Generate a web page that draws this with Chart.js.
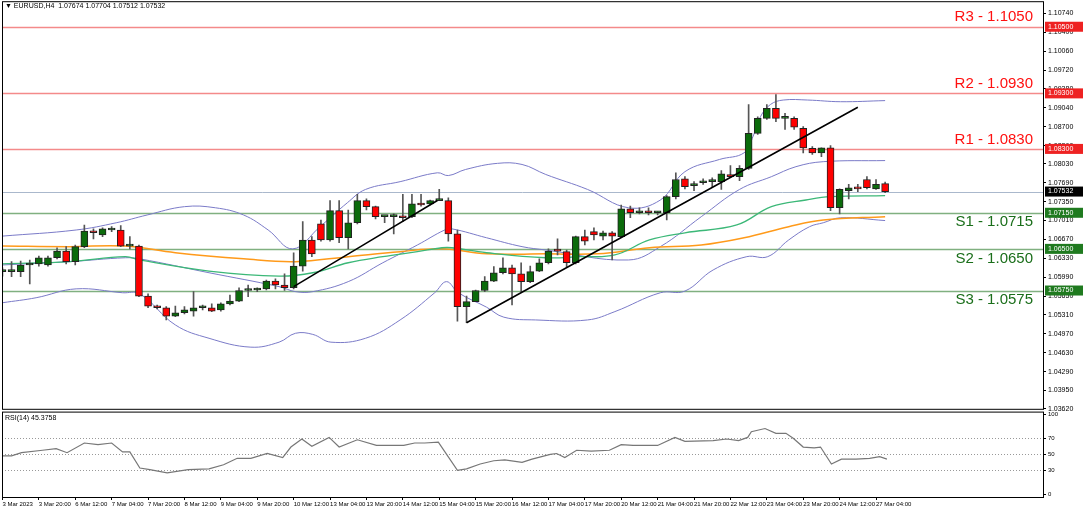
<!DOCTYPE html>
<html>
<head>
<meta charset="utf-8">
<script src="https://cdn.jsdelivr.net/npm/chart.js@4"></script>
<style>
  html, body { margin: 0; padding: 0; background: #fff; overflow: hidden; }
  #wrap { position: relative; width: 1090px; height: 510px; overflow: hidden; }
  #main { position: absolute; left: 0; top: -5px; }
  #rsi { position: absolute; left: 0; top: 406px; }
</style>
</head>
<body>
<div id="wrap">
  <canvas id="main" width="1090" height="420"></canvas>
  <canvas id="rsi" width="1090" height="104"></canvas>
</div>
<script>
/* EURUSD H4 - candles, bands, levels, RSI */

const OPEN  = [1.0609,1.0609,1.0609,1.0621,1.0623,1.0621,1.0634,1.0646,1.0627,1.0654,1.0682,1.0675,1.0684,1.0684,1.0655,1.0655,1.0565,1.0547,1.0544,1.0529,1.0535,1.0538,1.0544,1.0544,1.0540,1.0551,1.0556,1.0575,1.0576,1.0578,1.0592,1.0585,1.0580,1.0619,1.0666,1.0695,1.0666,1.0719,1.0670,1.0697,1.0737,1.0726,1.0708,1.0708,1.0709,1.0708,1.0731,1.0731,1.0737,1.0737,1.0677,1.0546,1.0555,1.0575,1.0592,1.0607,1.0616,1.0605,1.0591,1.0610,1.0625,1.0648,1.0645,1.0625,1.0672,1.0681,1.0673,1.0679,1.0672,1.0722,1.0715,1.0717,1.0715,1.0715,1.0744,1.0776,1.0764,1.0769,1.0771,1.0771,1.0784,1.0780,1.0795,1.0858,1.0885,1.0903,1.0885,1.0885,1.0867,1.0831,1.0823,1.0832,1.0724,1.0755,1.0760,1.0775,1.0758,1.07674];
const HIGH  = [1.0616,1.0627,1.0628,1.0630,1.0637,1.0637,1.0652,1.0654,1.0657,1.0693,1.0686,1.0688,1.0690,1.0692,1.0672,1.0657,1.0569,1.0549,1.0546,1.0547,1.0546,1.0573,1.0549,1.0551,1.0553,1.0567,1.0580,1.0585,1.0580,1.0594,1.0596,1.0605,1.0643,1.0699,1.0672,1.0702,1.0737,1.0737,1.0720,1.0748,1.0740,1.0727,1.0709,1.0713,1.0748,1.0748,1.0748,1.0738,1.0757,1.0742,1.0684,1.0565,1.0576,1.0600,1.0618,1.0634,1.0621,1.0625,1.0619,1.0632,1.0650,1.0668,1.0648,1.0673,1.0684,1.0688,1.0682,1.0681,1.0729,1.0727,1.0724,1.0724,1.0717,1.0746,1.0787,1.0780,1.0771,1.0776,1.0778,1.0791,1.0800,1.0800,1.0910,1.0888,1.0910,1.0928,1.0894,1.0888,1.0870,1.0834,1.0832,1.0836,1.0758,1.0766,1.0766,1.0780,1.0775,1.07704];
const LOW   = [1.0601,1.0600,1.0600,1.0587,1.0619,1.0619,1.0632,1.0623,1.0621,1.0652,1.0668,1.0672,1.0681,1.0654,1.0650,1.0564,1.0544,1.0542,1.0522,1.0528,1.0533,1.0529,1.0540,1.0537,1.0538,1.0549,1.0555,1.0564,1.0573,1.0576,1.0578,1.0575,1.0578,1.0610,1.0636,1.0664,1.0664,1.0661,1.0650,1.0695,1.0720,1.0704,1.0697,1.0677,1.0699,1.0706,1.0727,1.0729,1.0737,1.0664,1.0520,1.0517,1.0555,1.0573,1.0591,1.0605,1.0549,1.0573,1.0589,1.0609,1.0623,1.0639,1.0618,1.0623,1.0657,1.0666,1.0666,1.0630,1.0670,1.0706,1.0713,1.0711,1.0711,1.0702,1.0740,1.0758,1.0755,1.0766,1.0762,1.0757,1.0778,1.0773,1.0793,1.0856,1.0883,1.0879,1.0865,1.0865,1.0823,1.0820,1.0816,1.0719,1.0713,1.0740,1.0753,1.0758,1.0757,1.07512];
const CLOSE = [1.0609,1.0609,1.0621,1.0623,1.0634,1.0634,1.0646,1.0627,1.0654,1.0682,1.0679,1.0686,1.0684,1.0655,1.0655,1.0565,1.0547,1.0544,1.0529,1.0535,1.0540,1.0544,1.0544,1.0538,1.0551,1.0556,1.0575,1.0575,1.0578,1.0592,1.0585,1.0580,1.0619,1.0666,1.0641,1.0666,1.0719,1.0670,1.0697,1.0737,1.0726,1.0708,1.0708,1.0709,1.0706,1.0731,1.0729,1.0737,1.0737,1.0677,1.0546,1.0555,1.0575,1.0592,1.0607,1.0616,1.0605,1.0591,1.0609,1.0625,1.0646,1.0646,1.0625,1.0672,1.0664,1.0675,1.0679,1.0673,1.0722,1.0715,1.0715,1.0715,1.0715,1.0744,1.0775,1.0762,1.0764,1.0769,1.0771,1.0785,1.0780,1.0795,1.0858,1.0885,1.0903,1.0885,1.0885,1.0869,1.0832,1.0823,1.0832,1.0724,1.0757,1.0760,1.0758,1.0760,1.0766,1.07532];

// indicator lines: [bar index, price]
const BB_UPPER = [[0,1.0673],[8.1,1.0684],[12.5,1.0697],[15.9,1.0711],[20,1.0726],[23.4,1.0724],[26.5,1.0711],[29.2,1.0684],[31.9,1.0650],[34.9,1.0690],[37.9,1.0733],[39.9,1.0757],[43.7,1.0771],[47.8,1.0787],[49,1.0782],[50.9,1.0793],[54.4,1.0804],[57.1,1.0802],[59.7,1.0784],[64.3,1.0757],[68.8,1.0724],[72.3,1.0738],[75,1.0789],[78.8,1.0811],[81.5,1.0823],[82.5,1.0853],[83.3,1.0888],[84.4,1.0910],[85.8,1.0918],[88.5,1.0918],[92.1,1.0915],[97,1.0917]];
const BB_MID = [[0,1.0621],[7.4,1.0627],[13.5,1.0634],[15.1,1.0632],[22.7,1.0607],[30.4,1.0582],[32.2,1.0573],[34.1,1.0573],[38,1.0591],[41.8,1.0625],[45.6,1.0657],[48.6,1.0684],[49.4,1.0686],[53.2,1.0670],[57.1,1.0654],[59.7,1.0648],[68.8,1.0630],[72.3,1.0654],[76.8,1.0708],[81,1.0757],[84.5,1.0780],[87.2,1.0798],[90.2,1.0807],[97,1.0809]];
const BB_LOWER = [[0,1.0553],[3.7,1.0562],[8.1,1.0578],[13.2,1.0571],[15.1,1.0569],[19,1.0513],[22.7,1.0489],[27.3,1.0473],[30.4,1.0482],[32.2,1.0498],[34.1,1.0496],[36.1,1.0482],[39.9,1.0489],[43.7,1.0522],[47.5,1.0571],[48.8,1.0591],[50.1,1.0571],[53.2,1.0545],[55.1,1.0527],[58.6,1.0522],[64.3,1.0522],[67.3,1.0537],[72.3,1.0571],[75,1.0574],[78.1,1.0612],[81.8,1.0636],[84.1,1.0636],[86.4,1.0666],[88.7,1.0690],[90.2,1.0697],[92.1,1.0706],[97,1.0701]];
const MA_GREEN = [[0,1.0623],[7.4,1.0627],[13.5,1.0636],[15.1,1.0630],[22.7,1.0610],[30.4,1.0601],[34.1,1.0607],[38,1.0625],[41.8,1.0636],[45.6,1.0645],[48.3,1.0652],[49.4,1.0652],[53.2,1.0643],[59.7,1.0634],[63.5,1.0636],[67.3,1.0639],[71.1,1.0666],[75,1.0679],[80.7,1.0693],[84.5,1.0726],[88.3,1.0738],[91,1.0744],[97,1.0746]];
const MA_ORANGE = [[0,1.0655],[7.4,1.0654],[13.5,1.0655],[19,1.0643],[26.5,1.0632],[32.2,1.0627],[38,1.0636],[43.7,1.0645],[48.3,1.0650],[53.2,1.0641],[59.7,1.0641],[65.4,1.0641],[71.1,1.0652],[76.8,1.0657],[81.5,1.0670],[86.4,1.0690],[90.2,1.0702],[97,1.0708]];
const TREND_1 = [[32,1.0582],[47.8,1.0737]];
const TREND_2 = [[51,1.0517],[94,1.0905]];

const LEVELS = [
  { name: "R3", value: 1.1050, kind: "r" },
  { name: "R2", value: 1.0930, kind: "r" },
  { name: "R1", value: 1.0830, kind: "r" },
  { name: "S1", value: 1.0715, kind: "s" },
  { name: "S2", value: 1.0650, kind: "s" },
  { name: "S3", value: 1.0575, kind: "s" },
];
const LAST_PRICE = 1.07532;

const Y_TICKS = [1.0362,1.0395,1.0429,1.0463,1.0497,1.0531,1.0565,1.0599,1.0633,1.0667,1.0701,1.0735,1.0769,1.0803,1.0836,1.0870,1.0904,1.0938,1.0972,1.1006,1.1040,1.1074];
const TIME_LABELS = ["3 Mar 2023","3 Mar 20:00","6 Mar 12:00","7 Mar 04:00","7 Mar 20:00","8 Mar 12:00","9 Mar 04:00","9 Mar 20:00","10 Mar 12:00","13 Mar 04:00","13 Mar 20:00","14 Mar 12:00","15 Mar 04:00","15 Mar 20:00","16 Mar 12:00","17 Mar 04:00","17 Mar 20:00","20 Mar 12:00","21 Mar 04:00","21 Mar 20:00","22 Mar 12:00","23 Mar 04:00","23 Mar 20:00","24 Mar 12:00","27 Mar 04:00"];

const RSI = [[0,48],[1,48],[2.1,52],[4.4,55],[5.9,57],[7.1,52],[9,64],[10.5,62],[12,64],[13.2,53],[14,53],[15.1,33],[16.2,31],[18.1,27],[20.4,31],[22.7,32],[24.3,37],[25.8,45],[27.3,45],[29.1,51],[30.8,46],[31.7,59],[32.9,69],[34,60],[35.9,71],[37,59],[39,68],[41.1,61],[42.6,61],[44.1,61],[45.3,64],[46.4,64],[47.9,65],[50,30],[51,32],[52.5,38],[54,42],[55.2,43],[57.1,40],[58.2,44],[60.2,50],[60.9,51],[61.8,46],[63.1,55],[64.7,54],[66.7,55],[68,62],[69.3,61],[72,61],[73.9,71],[75,66],[78.1,67],[79.6,69],[80.9,67],[81.9,71],[82.3,78],[83.8,82],[85,76],[86.1,76],[86.9,70],[88,59],[89.2,58],[89.9,59],[91.1,38],[92.2,44],[93.8,44],[95.3,45],[96.4,47],[97.2,44]];
const RSI_LEVELS = [70, 50, 30];
const RSI_TICKS = [0, 30, 50, 70, 100];

const X_MIN = -0.05, X_MAX = 114.35;
const FONT = "DejaVu Sans";
const SMALL = "Liberation Sans";

const pts = (arr) => arr.map(([x, y]) => ({ x, y }));
const fixAxis = (w) => (s) => { s.width = w; };

/* ── Plugins ─────────────────────────────────────────── */
const frame = {
  id: "frame",
  afterDraw(chart) {
    const { ctx, chartArea: a } = chart;
    ctx.save();
    ctx.strokeStyle = "#000";
    ctx.lineWidth = 1;
    ctx.strokeRect(a.left + 0.5, a.top + 0.5, a.right - a.left, a.bottom - a.top);
    ctx.restore();
  },
};

const levels = {
  id: "levels",
  beforeDatasetsDraw(chart) {
    const { ctx, chartArea: a, scales: { y } } = chart;
    ctx.save();
    LEVELS.forEach((l) => {
      const py = Math.round(y.getPixelForValue(l.value)) + 0.5;
      ctx.strokeStyle = l.kind === "r" ? "#f48a8a" : "#80b080";
      ctx.lineWidth = 1.5;
      ctx.beginPath(); ctx.moveTo(a.left, py); ctx.lineTo(a.right, py); ctx.stroke();
    });
    const py = Math.round(y.getPixelForValue(LAST_PRICE)) + 0.5;
    ctx.strokeStyle = "#aab8cc"; ctx.lineWidth = 1;
    ctx.beginPath(); ctx.moveTo(a.left, py); ctx.lineTo(a.right, py); ctx.stroke();
    ctx.restore();
  },
  afterDraw(chart) {
    const { ctx, chartArea: a, scales: { y } } = chart;
    ctx.save();
    ctx.font = `15px "Liberation Sans"`;
    ctx.textAlign = "right";
    LEVELS.forEach((l) => {
      const py = y.getPixelForValue(l.value);
      ctx.fillStyle = l.kind === "r" ? "#ff1010" : "#1a6e1a";
      ctx.textBaseline = l.kind === "r" ? "bottom" : "top";
      ctx.fillText(`${l.name} - ${l.value.toFixed(4)}`, a.right - 10, l.kind === "r" ? py - 2 : py + 2);
    });
    // price tags on axis
    const tag = (v, bg) => {
      const py = y.getPixelForValue(v);
      ctx.fillStyle = bg;
      ctx.fillRect(a.right + 2, py - 5, 38, 10);
      ctx.fillStyle = "#fff";
      ctx.font = `7px "${SMALL}"`;
      ctx.textAlign = "left";
      ctx.textBaseline = "middle";
      ctx.fillText(v.toFixed(5), a.right + 5, py);
    };
    LEVELS.forEach((l) => tag(l.value, l.kind === "r" ? "#ee2222" : "#1f7a1f"));
    tag(LAST_PRICE, "#000");
    // header
    ctx.fillStyle = "#000";
    ctx.font = `7px "${SMALL}"`;
    ctx.textAlign = "left";
    ctx.textBaseline = "middle";
    ctx.fillText("▼ EURUSD,H4  1.07674 1.07704 1.07512 1.07532", a.left + 3, a.top + 5);
    ctx.restore();
  },
};

/* ── Main price chart ───────────────────────────────── */
const idx = OPEN.map((_, i) => i);
const bodyColor = idx.map((i) => (CLOSE[i] >= OPEN[i] ? "#0b6b0b" : "#ff0000"));

const lineDs = (data, color, width, order) => ({
  type: "line", data: pts(data), borderColor: color, borderWidth: width,
  pointRadius: 0, tension: 0.4, fill: false, order,
});

new Chart(document.getElementById("main"), {
  type: "bar",
  data: {
    datasets: [
      {
        data: idx.map((i) => ({ x: i, y: [OPEN[i], CLOSE[i]] })),
        backgroundColor: bodyColor, borderColor: "#222", borderWidth: 1,
        borderSkipped: false, barThickness: 7, minBarLength: 2, grouped: false, order: 0,
      },
      {
        data: idx.map((i) => ({ x: i, y: [LOW[i], HIGH[i]] })),
        backgroundColor: "#555", barThickness: 1, grouped: false, order: 1,
      },
      lineDs(TREND_1, "#000", 1.6, -1),
      lineDs(TREND_2, "#000", 1.6, -1),
      lineDs(BB_UPPER, "#7b7bc8", 1, 3),
      lineDs(BB_MID, "#7b7bc8", 1, 3),
      lineDs(BB_LOWER, "#7b7bc8", 1, 3),
      lineDs(MA_GREEN, "#3cb878", 1.3, 2),
      lineDs(MA_ORANGE, "#ff9a1a", 1.5, 2),
    ],
  },
  options: {
    responsive: false, animation: false,
    layout: { padding: { left: 2, top: 2, right: 0, bottom: 0 } },
    plugins: { legend: { display: false }, tooltip: { enabled: false } },
    scales: {
      x: { type: "linear", min: X_MIN, max: X_MAX, offset: false, display: false },
      y: {
        position: "right", min: 1.0362, max: 1.1096,
        afterFit: fixAxis(47),
        afterBuildTicks: (s) => { s.ticks = Y_TICKS.map((v) => ({ value: v })); },
        grid: { drawOnChartArea: false, tickLength: 3, color: "#000" },
        border: { display: false },
        ticks: { font: { family: SMALL, size: 7 }, color: "#000", padding: 2, callback: (v) => v.toFixed(5) },
      },
    },
  },
  plugins: [levels, frame],
});

/* ── RSI chart ───────────────────────────────────────── */
const rsiGrid = {
  id: "rsiGrid",
  beforeDatasetsDraw(chart) {
    const { ctx, chartArea: a, scales: { y } } = chart;
    ctx.save();
    ctx.strokeStyle = "#999"; ctx.lineWidth = 1; ctx.setLineDash([1, 2]);
    RSI_LEVELS.forEach((v) => {
      const py = Math.round(y.getPixelForValue(v)) + 0.5;
      ctx.beginPath(); ctx.moveTo(a.left, py); ctx.lineTo(a.right, py); ctx.stroke();
    });
    ctx.setLineDash([]);
    ctx.fillStyle = "#000";
    ctx.font = `7px "${SMALL}"`;
    ctx.textBaseline = "middle";
    ctx.fillText("RSI(14) 45.3758", a.left + 3, a.top + 6);
    ctx.restore();
  },
};

new Chart(document.getElementById("rsi"), {
  type: "line",
  data: {
    datasets: [{
      data: pts(RSI), borderColor: "#777", borderWidth: 1.2, pointRadius: 0, tension: 0, fill: false,
    }],
  },
  options: {
    responsive: false, animation: false,
    layout: { padding: { left: 2, top: 0, right: 0, bottom: 0 } },
    plugins: { legend: { display: false }, tooltip: { enabled: false } },
    scales: {
      x: {
        type: "linear", min: X_MIN, max: X_MAX, offset: false,
        afterFit: (s) => { s.height = 13; },
        afterBuildTicks: (s) => { s.ticks = TIME_LABELS.map((_, k) => ({ value: k * 4 })); },
        grid: { drawOnChartArea: false, tickLength: 3, color: "#000" },
        border: { display: false },
        ticks: {
          font: { family: SMALL, size: 6 }, color: "#000", maxRotation: 0, autoSkip: false,
          align: "start", padding: 1,
          callback: (v, i) => TIME_LABELS[i],
        },
      },
      y: {
        position: "right", min: -3, max: 103,
        afterFit: fixAxis(47),
        afterBuildTicks: (s) => { s.ticks = RSI_TICKS.map((v) => ({ value: v })); },
        grid: { drawOnChartArea: false, tickLength: 3, color: "#000" },
        border: { display: false },
        ticks: { font: { family: SMALL, size: 6 }, color: "#000", padding: 2 },
      },
    },
  },
  plugins: [rsiGrid, frame],
});
</script>
</body>
</html>
